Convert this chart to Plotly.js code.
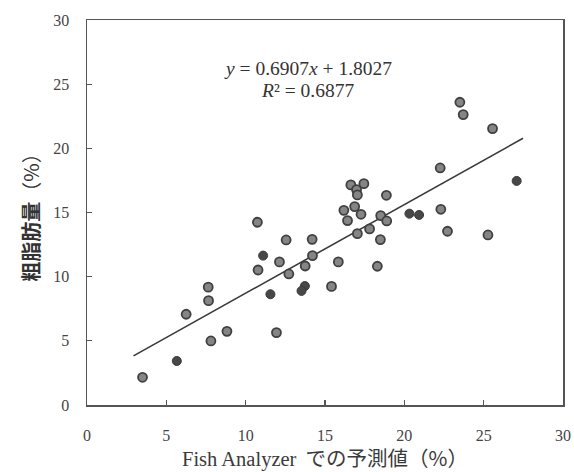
<!DOCTYPE html>
<html><head><meta charset="utf-8">
<script src="https://cdn.plot.ly/plotly-3.0.1.min.js"></script>
<style>html,body{margin:0;padding:0;background:#fff}#chart{width:574px;height:472px}</style>
</head><body><div id="chart"></div>
<script>
// Ringed (grey-filled) points
const xRing = [10.74,12.55,14.19,12.13,14.21,10.78,12.72,13.75,7.64,23.5,23.71,25.56,22.26,16.63,17.45,16.99,17.04,18.87,16.19,16.87,17.27,16.42,18.51,18.89,22.3,22.72,25.27,17.04,17.81,18.49,15.84,18.3,15.41,7.66,6.25,8.82,7.81,11.94,3.5];
const yRing = [14.24,12.86,12.91,11.15,11.64,10.52,10.21,10.83,9.18,23.59,22.63,21.54,18.47,17.15,17.25,16.78,16.37,16.34,15.17,15.46,14.86,14.37,14.76,14.34,15.25,13.54,13.25,13.35,13.72,12.89,11.15,10.81,9.24,8.13,7.07,5.74,4.99,5.64,2.16];
// Solid dark points
const xDark = [11.10,27.08,20.32,20.93,11.56,13.73,13.52,5.66];
const yDark = [11.64,17.46,14.91,14.81,8.63,9.27,8.89,3.43];
// Regression line (from equation shown)
const slope = 0.6907, intercept = 1.8027;
const lineX = [2.93, 27.48];
const lineY = lineX.map(v => slope * v + intercept);
const xTicks = [0,5,10,15,20,25,30];
const yTicks = [0,5,10,15,20,25,30];

const serif = "Liberation Serif, Times New Roman, serif";
const cjk = "Noto Sans CJK JP, Noto Sans, sans-serif";

const traces = [
  {x: lineX, y: lineY, mode: 'lines', line: {color: '#3a3a3a', width: 1.6}, hoverinfo: 'skip'},
  {x: xRing, y: yRing, mode: 'markers', marker: {size: 9, color: '#858585', line: {color: '#404040', width: 1.8}}},
  {x: xDark, y: yDark, mode: 'markers', marker: {size: 9, color: '#474747', line: {color: '#3a3a3a', width: 1}}}
];

const axBase = {
  showgrid: false, zeroline: false, showline: true, mirror: true,
  linecolor: '#555', linewidth: 1.5, ticks: 'inside', ticklen: 5, tickwidth: 1.2, tickcolor: '#555',
  tickfont: {family: serif, size: 16, color: '#444'}
};

const layout = {
  width: 574, height: 472,
  margin: {l: 87, r: 11, t: 20, b: 67},
  paper_bgcolor: '#fff', plot_bgcolor: '#fff',
  showlegend: false,
  xaxis: Object.assign({}, axBase, {
    range: [0, 30], tickvals: xTicks, ticktext: xTicks.map(String), ticklabelstandoff: 15,
    title: {text: '<span style="font-family:' + serif + ';font-size:20.5px">Fish Analyzer</span>  での予測値（%）', font: {family: cjk, size: 20.5, color: '#3a3a3a'}, standoff: 1}
  }),
  yaxis: Object.assign({}, axBase, {
    range: [0, 30], tickvals: yTicks, ticktext: yTicks.map(String), ticklabelstandoff: 13,
    title: {text: '<b>粗脂肪量</b>（%）', font: {family: cjk, size: 20, color: '#333'}, standoff: 8}
  }),
  annotations: [
    {xref: 'paper', yref: 'paper', x: 0.464, y: 0.875, xanchor: 'center', yanchor: 'middle', showarrow: false,
     text: '<i>y</i> = 0.6907<i>x</i> + 1.8027', font: {family: serif, size: 19.5, color: '#333'}},
    {xref: 'paper', yref: 'paper', x: 0.464, y: 0.818, xanchor: 'center', yanchor: 'middle', showarrow: false,
     text: '<i>R</i>² = 0.6877', font: {family: serif, size: 19.5, color: '#333'}}
  ]
};

Plotly.newPlot('chart', traces, layout, {displayModeBar: false, staticPlot: true});
</script>
</body></html>
